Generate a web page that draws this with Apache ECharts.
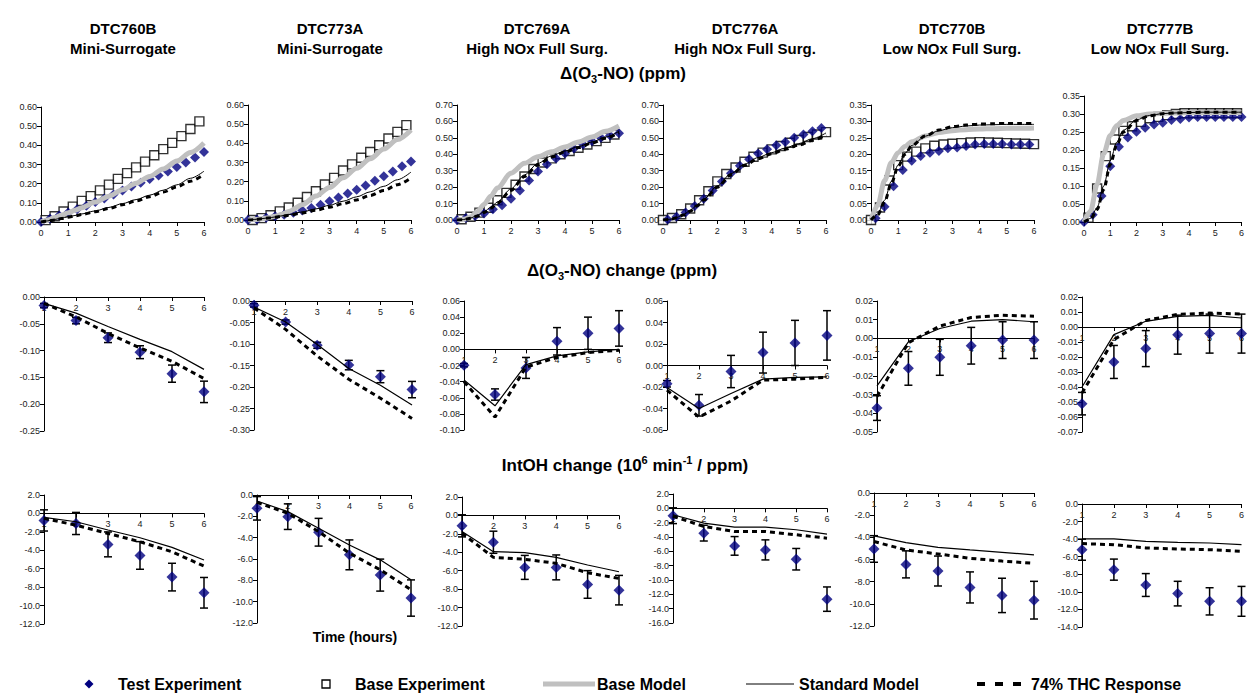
<!DOCTYPE html>
<html>
<head>
<meta charset="utf-8">
<title>Reactivity experiments vs. model</title>
<script src="https://cdn.jsdelivr.net/npm/echarts@6/dist/echarts.min.js"></script>
<style>
  html, body { margin: 0; padding: 0; background: #fff; }
  #chart { width: 1247px; height: 693px; }
</style>
</head>
<body>
<div id="chart"></div>
<script>
// ---------- experiment labels ----------
const runIds   = ['DTC760B', 'DTC773A', 'DTC769A', 'DTC776A', 'DTC770B', 'DTC777B'];
const runTypes = ['Mini-Surrogate', 'Mini-Surrogate', 'High NOx Full Surg.', 'High NOx Full Surg.', 'Low NOx Full Surg.', 'Low NOx Full Surg.'];
const legendNames = ['Test Experiment', 'Base Experiment', 'Base Model', 'Standard Model', '74% THC Response'];

// ---------- sampling times (hours) ----------
const thirdsFromZero  = [0, 0.33, 0.67, 1, 1.33, 1.67, 2, 2.33, 2.67, 3, 3.33, 3.67, 4, 4.33, 4.67, 5, 5.33, 5.67, 6];
const thirdsFromSixth = [0.17, 0.5, 0.83, 1.17, 1.5, 1.83, 2.17, 2.5, 2.83, 3.17, 3.5, 3.83, 4.17, 4.5, 4.83, 5.17, 5.5, 5.83];
const modelHours      = [0, 0.25, 0.5, 0.75, 1, 1.25, 1.5, 2, 2.5, 3, 3.5, 4, 4.5, 5, 5.5, 6];
const changeHours     = [1, 2, 3, 4, 5, 6];

// ---------- Δ(O3-NO) (ppm) ----------
const dtc760bTest      = [0, 0.017, 0.034, 0.05, 0.067, 0.085, 0.104, 0.122, 0.143, 0.165, 0.185, 0.205, 0.224, 0.243, 0.264, 0.287, 0.31, 0.336, 0.365];
const dtc760bBase      = [0.01, 0.03, 0.055, 0.08, 0.11, 0.135, 0.165, 0.195, 0.225, 0.255, 0.285, 0.315, 0.348, 0.38, 0.413, 0.448, 0.485, 0.525];
const dtc760bBaseModel = [0, 0.011, 0.023, 0.035, 0.048, 0.061, 0.075, 0.104, 0.135, 0.168, 0.202, 0.238, 0.277, 0.318, 0.362, 0.412];
const dtc760bStdModel  = [0, 0.006, 0.013, 0.02, 0.027, 0.034, 0.042, 0.058, 0.076, 0.096, 0.117, 0.14, 0.166, 0.194, 0.228, 0.265];
const dtc760bThc       = [0, 0.005, 0.011, 0.018, 0.025, 0.032, 0.039, 0.054, 0.071, 0.09, 0.11, 0.132, 0.156, 0.183, 0.213, 0.248];

const dtc773aTest      = [0, 0.003, 0.012, 0.02, 0.028, 0.038, 0.05, 0.063, 0.08, 0.098, 0.117, 0.138, 0.158, 0.18, 0.205, 0.228, 0.253, 0.28, 0.305];
const dtc773aBase      = [0, 0.01, 0.025, 0.045, 0.065, 0.09, 0.12, 0.15, 0.185, 0.22, 0.258, 0.29, 0.325, 0.355, 0.39, 0.425, 0.46, 0.495];
const dtc773aBaseModel = [0, 0.002, 0.006, 0.012, 0.02, 0.03, 0.045, 0.08, 0.125, 0.17, 0.22, 0.27, 0.32, 0.37, 0.42, 0.47];
const dtc773aStdModel  = [0, 0.003, 0.007, 0.011, 0.016, 0.022, 0.028, 0.042, 0.058, 0.077, 0.098, 0.121, 0.147, 0.176, 0.21, 0.25];
const dtc773aThc       = [0, 0.002, 0.006, 0.01, 0.014, 0.019, 0.025, 0.037, 0.051, 0.067, 0.085, 0.105, 0.128, 0.154, 0.184, 0.22];

const dtc769aTest      = [0, 0.012, 0.024, 0.04, 0.065, 0.09, 0.13, 0.18, 0.24, 0.295, 0.34, 0.375, 0.405, 0.435, 0.46, 0.48, 0.5, 0.515, 0.528];
const dtc769aBase      = [0.005, 0.02, 0.045, 0.075, 0.12, 0.165, 0.215, 0.265, 0.31, 0.35, 0.375, 0.4, 0.42, 0.44, 0.46, 0.48, 0.5, 0.52];
const dtc769aBaseModel = [0, 0.004, 0.018, 0.05, 0.095, 0.145, 0.195, 0.285, 0.345, 0.385, 0.415, 0.445, 0.475, 0.505, 0.54, 0.572];
const dtc769aStdModel  = [0, 0.003, 0.012, 0.028, 0.05, 0.078, 0.11, 0.19, 0.275, 0.345, 0.39, 0.42, 0.447, 0.475, 0.505, 0.54];
const dtc769aThc       = [0, 0.002, 0.01, 0.024, 0.045, 0.072, 0.103, 0.18, 0.265, 0.337, 0.383, 0.414, 0.441, 0.468, 0.498, 0.532];

const dtc776aTest      = [0.003, 0.02, 0.045, 0.085, 0.13, 0.18, 0.235, 0.285, 0.33, 0.37, 0.405, 0.43, 0.455, 0.475, 0.5, 0.52, 0.54, 0.56];
const dtc776aBase      = [0, 0.012, 0.035, 0.07, 0.12, 0.175, 0.235, 0.28, 0.32, 0.355, 0.385, 0.41, 0.43, 0.45, 0.47, 0.487, 0.505, 0.52, 0.535];
const dtc776aBaseModel = null; // no base-model curve is drawn for this run
const dtc776aStdModel  = [0, 0.004, 0.015, 0.033, 0.058, 0.09, 0.127, 0.208, 0.282, 0.34, 0.38, 0.41, 0.438, 0.465, 0.495, 0.53];
const dtc776aThc       = [0, 0.003, 0.013, 0.03, 0.054, 0.085, 0.121, 0.2, 0.274, 0.332, 0.373, 0.403, 0.43, 0.456, 0.485, 0.52];

const dtc770bTest      = [0.005, 0.04, 0.103, 0.152, 0.18, 0.195, 0.205, 0.21, 0.218, 0.221, 0.225, 0.23, 0.231, 0.231, 0.231, 0.23, 0.23, 0.23];
const dtc770bBase      = [0, 0.038, 0.12, 0.167, 0.193, 0.208, 0.218, 0.226, 0.23, 0.232, 0.234, 0.236, 0.237, 0.236, 0.235, 0.234, 0.233, 0.232, 0.231];
const dtc770bBaseModel = [0, 0.045, 0.12, 0.175, 0.205, 0.224, 0.238, 0.256, 0.266, 0.272, 0.275, 0.277, 0.278, 0.279, 0.279, 0.28];
const dtc770bStdModel  = [0, 0.018, 0.06, 0.118, 0.168, 0.203, 0.227, 0.255, 0.272, 0.281, 0.286, 0.289, 0.29, 0.291, 0.291, 0.291];
const dtc770bThc       = [0, 0.016, 0.055, 0.112, 0.163, 0.2, 0.226, 0.256, 0.274, 0.284, 0.289, 0.292, 0.293, 0.294, 0.294, 0.294];

const dtc777bTest      = [0, 0.02, 0.072, 0.155, 0.209, 0.235, 0.251, 0.262, 0.271, 0.276, 0.283, 0.286, 0.29, 0.292, 0.292, 0.292, 0.292, 0.292, 0.292];
const dtc777bBase      = [0.012, 0.093, 0.183, 0.229, 0.253, 0.266, 0.278, 0.288, 0.292, 0.297, 0.3, 0.302, 0.302, 0.302, 0.302, 0.302, 0.302, 0.302];
const dtc777bBaseModel = [0, 0.03, 0.105, 0.19, 0.24, 0.268, 0.282, 0.295, 0.3, 0.302, 0.303, 0.304, 0.304, 0.304, 0.304, 0.304];
const dtc777bStdModel  = [0, 0.01, 0.04, 0.1, 0.17, 0.222, 0.255, 0.284, 0.296, 0.301, 0.303, 0.304, 0.305, 0.305, 0.305, 0.305];
const dtc777bThc       = [0, 0.008, 0.035, 0.09, 0.16, 0.215, 0.25, 0.282, 0.295, 0.301, 0.303, 0.304, 0.305, 0.305, 0.305, 0.305];

// ---------- Δ(O3-NO) change (ppm), hourly ----------
const chg760bTest = [-0.016, -0.044, -0.076, -0.103, -0.143, -0.177];
const chg760bErr  = [0.004, 0.006, 0.009, 0.012, 0.016, 0.02];
const chg760bStd  = [-0.012, -0.03, -0.055, -0.079, -0.102, -0.135];
const chg760bThc  = [-0.012, -0.037, -0.068, -0.095, -0.12, -0.152];

const chg773aTest = [-0.01, -0.049, -0.103, -0.149, -0.176, -0.206];
const chg773aErr  = [0.004, 0.005, 0.007, 0.011, 0.014, 0.019];
const chg773aStd  = [-0.014, -0.049, -0.101, -0.157, -0.196, -0.242];
const chg773aThc  = [-0.016, -0.066, -0.128, -0.182, -0.226, -0.273];

const chg769aTest = [-0.0196, -0.056, -0.023, 0.01, 0.02, 0.026];
const chg769aErr  = [0.002, 0.007, 0.013, 0.017, 0.02, 0.022];
const chg769aStd  = [-0.038, -0.07, -0.019, -0.008, -0.003, 0];
const chg769aThc  = [-0.04, -0.084, -0.022, -0.01, -0.004, -0.001];

const chg776aTest = [-0.017, -0.037, -0.0056, 0.012, 0.021, 0.028];
const chg776aErr  = [0.003, 0.01, 0.015, 0.019, 0.021, 0.023];
const chg776aStd  = [-0.0204, -0.04, -0.026, -0.0127, -0.011, -0.0105];
const chg776aThc  = [-0.023, -0.048, -0.033, -0.0136, -0.0127, -0.011];

const chg770bTest = [-0.0372, -0.016, -0.0101, -0.0039, -0.0009, -0.0009];
const chg770bErr  = [0.0066, 0.009, 0.0096, 0.0098, 0.0098, 0.0098];
const chg770bStd  = [-0.0254, -0.0018, 0.0053, 0.0092, 0.0101, 0.0089];
const chg770bThc  = [-0.031, -0.0023, 0.0066, 0.0112, 0.0124, 0.0119];

const chg777bTest = [-0.0511, -0.0233, -0.0144, -0.0051, -0.0044, -0.0044];
const chg777bErr  = [0.0075, 0.011, 0.012, 0.013, 0.013, 0.013];
const chg777bStd  = [-0.04, -0.0051, 0.0038, 0.0071, 0.0078, 0.006];
const chg777bThc  = [-0.044, -0.0084, 0.0044, 0.0084, 0.0093, 0.0087];

// ---------- IntOH change (10^6 min^-1 / ppm), hourly ----------
const oh760bTest = [-0.76, -1.09, -3.36, -4.56, -6.91, -8.61];
const oh760bErr  = [1.15, 1.2, 1.35, 1.5, 1.5, 1.66];
const oh760bStd  = [-0.43, -0.9, -1.8, -2.64, -3.69, -5.06];
const oh760bThc  = [-0.54, -1.27, -2.17, -3.08, -4.16, -5.72];

const oh773aTest = [-1.25, -2.03, -3.49, -5.61, -7.51, -9.66];
const oh773aErr  = [1.1, 1.2, 1.3, 1.4, 1.5, 1.7];
const oh773aStd  = [-0.56, -1.56, -3.12, -4.68, -6.08, -7.95];
const oh773aThc  = [-0.69, -1.71, -3.43, -5.45, -7.01, -8.88];

const oh769aTest = [-1.13, -2.91, -5.64, -5.64, -7.49, -8.11];
const oh769aErr  = [1.2, 1.2, 1.3, 1.35, 1.5, 1.6];
const oh769aStd  = [-1.75, -3.93, -4.04, -4.55, -5.38, -6.11];
const oh769aThc  = [-1.93, -4.55, -4.76, -5.2, -6.22, -6.84];

const oh776aTest = [-1.03, -3.46, -5.24, -5.8, -7.1, -12.67];
const oh776aErr  = [1.1, 1.1, 1.3, 1.4, 1.5, 1.7];
const oh776aStd  = [-0.89, -2.06, -2.62, -2.62, -2.99, -3.6];
const oh776aThc  = [-1.12, -2.52, -3.23, -3.23, -3.69, -4.16];

const oh770bTest = [-5.05, -6.44, -7.04, -8.52, -9.24, -9.67];
const oh770bErr  = [1.2, 1.22, 1.35, 1.4, 1.55, 1.7];
const oh770bStd  = [-3.87, -4.47, -4.9, -5.14, -5.35, -5.59];
const oh770bThc  = [-4.38, -5.14, -5.5, -5.89, -6.14, -6.35];

const oh777bTest = [-5.2, -7.47, -9.22, -10.2, -11.08, -11.08];
const oh777bErr  = [1.2, 1.2, 1.3, 1.4, 1.55, 1.7];
const oh777bStd  = [-3.98, -3.98, -4.25, -4.36, -4.44, -4.63];
const oh777bThc  = [-4.51, -4.63, -5.0, -5.12, -5.2, -5.39];

// ---------- axis ranges (tick labels) ----------
const o3noMax     = [0.6, 0.6, 0.7, 0.7, 0.35, 0.35];
const o3noStep    = [0.1, 0.1, 0.1, 0.1, 0.05, 0.05];
const changeMin   = [-0.25, -0.30, -0.10, -0.06, -0.05, -0.07];
const changeMax   = [0, 0, 0.06, 0.06, 0.02, 0.02];
const changeStep  = [0.05, 0.05, 0.02, 0.02, 0.01, 0.01];
const intOhMin    = [-12, -12, -12, -16, -12, -14];
const intOhMax    = [2, 0, 2, 2, 0, 0];
const intOhStep   = [2, 2, 2, 2, 2, 2];

// ---------- data tables assembled from the arrays above ----------
const o3noRuns = [
  { test: dtc760bTest, testT: thirdsFromZero,  base: dtc760bBase, baseT: thirdsFromSixth, bm: dtc760bBaseModel, std: dtc760bStdModel, thc: dtc760bThc },
  { test: dtc773aTest, testT: thirdsFromZero,  base: dtc773aBase, baseT: thirdsFromSixth, bm: dtc773aBaseModel, std: dtc773aStdModel, thc: dtc773aThc },
  { test: dtc769aTest, testT: thirdsFromZero,  base: dtc769aBase, baseT: thirdsFromSixth, bm: dtc769aBaseModel, std: dtc769aStdModel, thc: dtc769aThc },
  { test: dtc776aTest, testT: thirdsFromSixth, base: dtc776aBase, baseT: thirdsFromZero,  bm: dtc776aBaseModel, std: dtc776aStdModel, thc: dtc776aThc },
  { test: dtc770bTest, testT: thirdsFromSixth, base: dtc770bBase, baseT: thirdsFromZero,  bm: dtc770bBaseModel, std: dtc770bStdModel, thc: dtc770bThc },
  { test: dtc777bTest, testT: thirdsFromZero,  base: dtc777bBase, baseT: thirdsFromSixth, bm: dtc777bBaseModel, std: dtc777bStdModel, thc: dtc777bThc }
];
const changeRuns = [
  { test: chg760bTest, err: chg760bErr, std: chg760bStd, thc: chg760bThc },
  { test: chg773aTest, err: chg773aErr, std: chg773aStd, thc: chg773aThc },
  { test: chg769aTest, err: chg769aErr, std: chg769aStd, thc: chg769aThc },
  { test: chg776aTest, err: chg776aErr, std: chg776aStd, thc: chg776aThc },
  { test: chg770bTest, err: chg770bErr, std: chg770bStd, thc: chg770bThc },
  { test: chg777bTest, err: chg777bErr, std: chg777bStd, thc: chg777bThc }
];
const intOhRuns = [
  { test: oh760bTest, err: oh760bErr, std: oh760bStd, thc: oh760bThc },
  { test: oh773aTest, err: oh773aErr, std: oh773aStd, thc: oh773aThc },
  { test: oh769aTest, err: oh769aErr, std: oh769aStd, thc: oh769aThc },
  { test: oh776aTest, err: oh776aErr, std: oh776aStd, thc: oh776aThc },
  { test: oh770bTest, err: oh770bErr, std: oh770bStd, thc: oh770bThc },
  { test: oh777bTest, err: oh777bErr, std: oh777bStd, thc: oh777bThc }
];

// ---------- layout: plot boxes [left, top, width, height] ----------
const row1Boxes = [[41, 107, 163, 115], [248, 105, 163, 115], [457, 105, 162, 115], [663, 105, 163, 115], [871, 105, 163, 115], [1084, 96, 158, 126]];
const row2Boxes = [[44, 297, 160, 134], [254, 301, 158, 129], [464, 301, 155, 129], [667, 301, 160, 129], [877, 301, 157, 131], [1082, 297, 160, 135]];
const row3Boxes = [[44, 495, 160, 129], [257, 495, 154, 128], [462, 497, 157, 129], [673, 494, 154, 129], [874, 493, 160, 133], [1082, 504, 160, 123]];
const columnCenters = [123, 330, 537, 745, 952, 1160];

// ---------- styling ----------
const FONT = "'Liberation Sans', Arial, Helvetica, sans-serif";
const NAVY = '#000080';
const GRAY = '#c0c0c0';

const grids = [], xAxes = [], yAxes = [], series = [];
const pairs = (xs, ys) => xs.map((x, i) => [x, ys[i]]);

// One plot box; the hour axis sits on the zero line of the value axis.
function addPanel(box, xMin, yMin, yMax, yStep, decimals) {
  const idx = grids.length;
  const zeroFromBottom = box[3] * (0 - yMin) / (yMax - yMin);
  grids.push({ left: box[0], top: box[1], width: box[2], height: box[3] });
  xAxes.push({
    type: 'value', gridIndex: idx, min: xMin, max: 6, interval: 1,
    position: 'bottom', offset: -zeroFromBottom,
    axisLine: { onZero: false, lineStyle: { color: '#000', width: 1 } },
    axisTick: { length: 4, lineStyle: { color: '#000', width: 1 } },
    axisLabel: { fontSize: 9, color: '#222', margin: 6, fontFamily: FONT },
    splitLine: { show: false }
  });
  yAxes.push({
    type: 'value', gridIndex: idx, min: yMin, max: yMax, interval: yStep,
    axisLine: { show: true, onZero: false, lineStyle: { color: '#000', width: 1 } },
    axisTick: { show: true, length: 4, lineStyle: { color: '#000', width: 1 } },
    axisLabel: { fontSize: 9, color: '#222', margin: 4, fontFamily: FONT, formatter: v => v.toFixed(decimals) },
    splitLine: { show: false }
  });
  return idx;
}

function lineSeries(name, idx, data, lineStyle, smooth) {
  const s = {
    type: 'line', name, xAxisIndex: idx, yAxisIndex: idx, data,
    showSymbol: false, symbol: 'none', smooth: smooth ? 0.3 : false,
    lineStyle, silent: true
  };
  if (smooth) s.smoothMonotone = 'x';
  return s;
}

function errorBarSeries(idx, hours, values, errs) {
  return {
    type: 'custom', name: 'Test Experiment error', xAxisIndex: idx, yAxisIndex: idx, silent: true,
    data: hours.map((h, i) => [h, values[i] - errs[i], values[i] + errs[i]]),
    encode: { x: 0, y: [1, 2] },
    renderItem(params, api) {
      const lo = api.coord([api.value(0), api.value(1)]);
      const hi = api.coord([api.value(0), api.value(2)]);
      const cap = 4;
      const st = { stroke: '#000', lineWidth: 1.5 };
      return {
        type: 'group',
        children: [
          { type: 'line', shape: { x1: hi[0], y1: hi[1], x2: lo[0], y2: lo[1] }, style: st },
          { type: 'line', shape: { x1: hi[0] - cap, y1: hi[1], x2: hi[0] + cap, y2: hi[1] }, style: st },
          { type: 'line', shape: { x1: lo[0] - cap, y1: lo[1], x2: lo[0] + cap, y2: lo[1] }, style: st }
        ]
      };
    }
  };
}

// Row 1: Δ(O3-NO) time series
o3noRuns.forEach((run, p) => {
  const idx = addPanel(row1Boxes[p], 0, 0, o3noMax[p], o3noStep[p], 2);
  if (run.bm) series.push(lineSeries(legendNames[2], idx, pairs(modelHours, run.bm), { color: GRAY, width: 5 }, true));
  series.push(lineSeries(legendNames[4], idx, pairs(modelHours, run.thc), { color: '#000', width: 3, type: [5, 4] }, true));
  series.push(lineSeries(legendNames[3], idx, pairs(modelHours, run.std), { color: '#000', width: 1 }, true));
  series.push({
    type: 'scatter', name: legendNames[1], xAxisIndex: idx, yAxisIndex: idx, silent: true,
    data: pairs(run.baseT, run.base), symbol: 'rect', symbolSize: 9,
    itemStyle: { color: '#fff', borderColor: '#000', borderWidth: 1.4 }
  });
  series.push({
    type: 'scatter', name: legendNames[0], xAxisIndex: idx, yAxisIndex: idx, silent: true,
    data: pairs(run.testT, run.test), symbol: 'diamond', symbolSize: 10,
    itemStyle: { color: NAVY }
  });
});

// Rows 2 and 3: hourly changes with error bars
function addChangeRow(runs, boxes, mins, maxs, steps, decimals) {
  runs.forEach((run, p) => {
    const idx = addPanel(boxes[p], 1, mins[p], maxs[p], steps[p], decimals);
    series.push(lineSeries(legendNames[4], idx, pairs(changeHours, run.thc), { color: '#000', width: 3, type: [5, 4] }, false));
    series.push(lineSeries(legendNames[3], idx, pairs(changeHours, run.std), { color: '#000', width: 1.2 }, false));
    series.push(errorBarSeries(idx, changeHours, run.test, run.err));
    series.push({
      type: 'scatter', name: legendNames[0], xAxisIndex: idx, yAxisIndex: idx, silent: true,
      data: pairs(changeHours, run.test), symbol: 'diamond', symbolSize: 11,
      itemStyle: { color: NAVY }
    });
  });
}
addChangeRow(changeRuns, row2Boxes, changeMin, changeMax, changeStep, 2);
addChangeRow(intOhRuns, row3Boxes, intOhMin, intOhMax, intOhStep, 1);

// ---------- titles and legend ----------
const graphic = [];
const boldText = (text, x, y, size, align) => ({
  type: 'text', silent: true,
  style: { text, x, y, fill: '#000', font: `bold ${size}px ${FONT}`, textAlign: align || 'center', textVerticalAlign: 'middle' }
});

runIds.forEach((id, i) => {
  graphic.push(boldText(id, columnCenters[i], 28, 15));
  graphic.push(boldText(runTypes[i], columnCenters[i], 48, 15));
});

const richStyles = {
  a: { fontSize: 17, fontWeight: 'bold', fontFamily: FONT, lineHeight: 22, verticalAlign: 'middle', fill: '#000' },
  sub: { fontSize: 11, fontWeight: 'bold', fontFamily: FONT, lineHeight: 11, verticalAlign: 'bottom', fill: '#000' },
  sup: { fontSize: 11, fontWeight: 'bold', fontFamily: FONT, lineHeight: 11, verticalAlign: 'top', fill: '#000' }
};
const richTitle = (text, x, y) => ({
  type: 'text', silent: true,
  style: { text, x, y, textAlign: 'center', textVerticalAlign: 'middle', rich: richStyles, fill: '#000', font: `bold 17px ${FONT}` }
});
graphic.push(richTitle('{a|Δ(O}{sub|3}{a|-NO) (ppm)}', 623, 73));
graphic.push(richTitle('{a|Δ(O}{sub|3}{a|-NO) change (ppm)}', 622, 270));
graphic.push(richTitle('{a|IntOH change (10}{sup|6}{a| min}{sup|-1}{a| / ppm)}', 625, 465));
graphic.push(boldText('Time (hours)', 355, 637, 14));

// legend row
const ly = 684;
graphic.push({ type: 'polygon', silent: true, shape: { points: [[89, ly - 4.5], [93.5, ly], [89, ly + 4.5], [84.5, ly]] }, style: { fill: NAVY } });
graphic.push(boldText(legendNames[0], 118, ly, 16, 'left'));
graphic.push({ type: 'rect', silent: true, shape: { x: 322, y: ly - 4, width: 8, height: 8 }, style: { fill: '#fff', stroke: '#000', lineWidth: 1.3 } });
graphic.push(boldText(legendNames[1], 355, ly, 16, 'left'));
graphic.push({ type: 'line', silent: true, shape: { x1: 543, y1: ly, x2: 595, y2: ly }, style: { stroke: GRAY, lineWidth: 5 } });
graphic.push(boldText(legendNames[2], 597, ly, 16, 'left'));
graphic.push({ type: 'line', silent: true, shape: { x1: 746, y1: ly, x2: 794, y2: ly }, style: { stroke: '#000', lineWidth: 1 } });
graphic.push(boldText(legendNames[3], 799, ly, 16, 'left'));
graphic.push({ type: 'line', silent: true, shape: { x1: 977, y1: ly, x2: 1023, y2: ly }, style: { stroke: '#000', lineWidth: 4, lineDash: [8, 10] } });
graphic.push(boldText(legendNames[4], 1031, ly, 16, 'left'));

const chart = echarts.init(document.getElementById('chart'), null, { renderer: 'svg' });
chart.setOption({
  backgroundColor: '#fff',
  animation: false,
  grid: grids,
  xAxis: xAxes,
  yAxis: yAxes,
  series,
  graphic
});
</script>
</body>
</html>
